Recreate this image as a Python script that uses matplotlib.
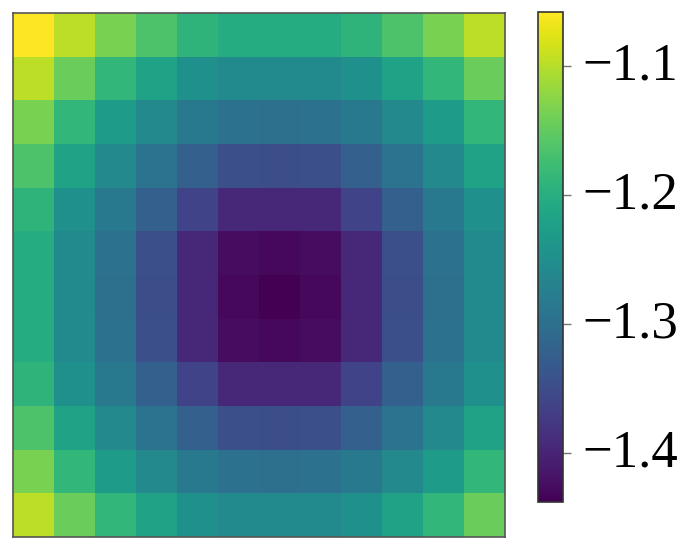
import matplotlib
matplotlib.use("Agg")
import matplotlib.pyplot as plt
import matplotlib.transforms as mtransforms
import numpy as np

row_a = [-1.058, -1.096, -1.134, -1.164, -1.191, -1.202, -1.202, -1.202, -1.191, -1.164, -1.134, -1.096]
row_b = [-1.096, -1.145, -1.187, -1.219, -1.248, -1.256, -1.256, -1.256, -1.248, -1.219, -1.187, -1.145]
row_c = [-1.134, -1.187, -1.229, -1.259, -1.284, -1.296, -1.297, -1.296, -1.284, -1.259, -1.229, -1.187]
row_d = [-1.164, -1.219, -1.259, -1.294, -1.322, -1.345, -1.347, -1.345, -1.322, -1.294, -1.259, -1.219]
row_e = [-1.191, -1.248, -1.284, -1.322, -1.362, -1.394, -1.396, -1.394, -1.362, -1.322, -1.284, -1.248]
row_f = [-1.202, -1.256, -1.296, -1.345, -1.394, -1.425, -1.430, -1.425, -1.394, -1.345, -1.296, -1.256]
row_g = [-1.202, -1.256, -1.297, -1.347, -1.396, -1.430, -1.438, -1.430, -1.396, -1.347, -1.297, -1.256]
row_h = [-1.202, -1.256, -1.296, -1.345, -1.394, -1.425, -1.430, -1.425, -1.394, -1.345, -1.296, -1.256]
row_i = [-1.191, -1.248, -1.284, -1.322, -1.362, -1.394, -1.396, -1.394, -1.362, -1.322, -1.284, -1.248]
row_j = [-1.164, -1.219, -1.259, -1.294, -1.322, -1.345, -1.347, -1.345, -1.322, -1.294, -1.259, -1.219]
row_k = [-1.134, -1.187, -1.229, -1.259, -1.284, -1.296, -1.297, -1.296, -1.284, -1.259, -1.229, -1.187]
row_l = [-1.096, -1.145, -1.187, -1.219, -1.248, -1.256, -1.256, -1.256, -1.248, -1.219, -1.187, -1.145]

cbar_ticks = [-1.1, -1.2, -1.3, -1.4]

data = np.array([row_a, row_b, row_c, row_d, row_e, row_f,
                 row_g, row_h, row_i, row_j, row_k, row_l])

plt.rcParams['font.family'] = ['Liberation Serif', 'DejaVu Serif']

fig = plt.figure(figsize=(7, 5.5), dpi=100)
ax = fig.add_axes([13/700, 1 - 537/550, 492/700, 524/550])
im = ax.imshow(data, cmap='viridis', aspect='auto', interpolation='nearest')
ax.set_xticks([])
ax.set_yticks([])
for s in ax.spines.values():
    s.set_color('#555555')
    s.set_linewidth(1.2)

cax = fig.add_axes([538/700, 1 - 502/550, 25/700, 490/550])
cb = fig.colorbar(im, cax=cax, ticks=cbar_ticks)
cb.ax.tick_params(labelsize=38, length=6, width=1, color='#777777', pad=8)
cb.outline.set_edgecolor('#333333')
cb.outline.set_linewidth(1.2)

offset = mtransforms.ScaledTranslation(0, 5/100, fig.dpi_scale_trans)
for lab in cb.ax.get_yticklabels():
    lab.set_transform(lab.get_transform() + offset)

fig.savefig('out.png', dpi=100)
